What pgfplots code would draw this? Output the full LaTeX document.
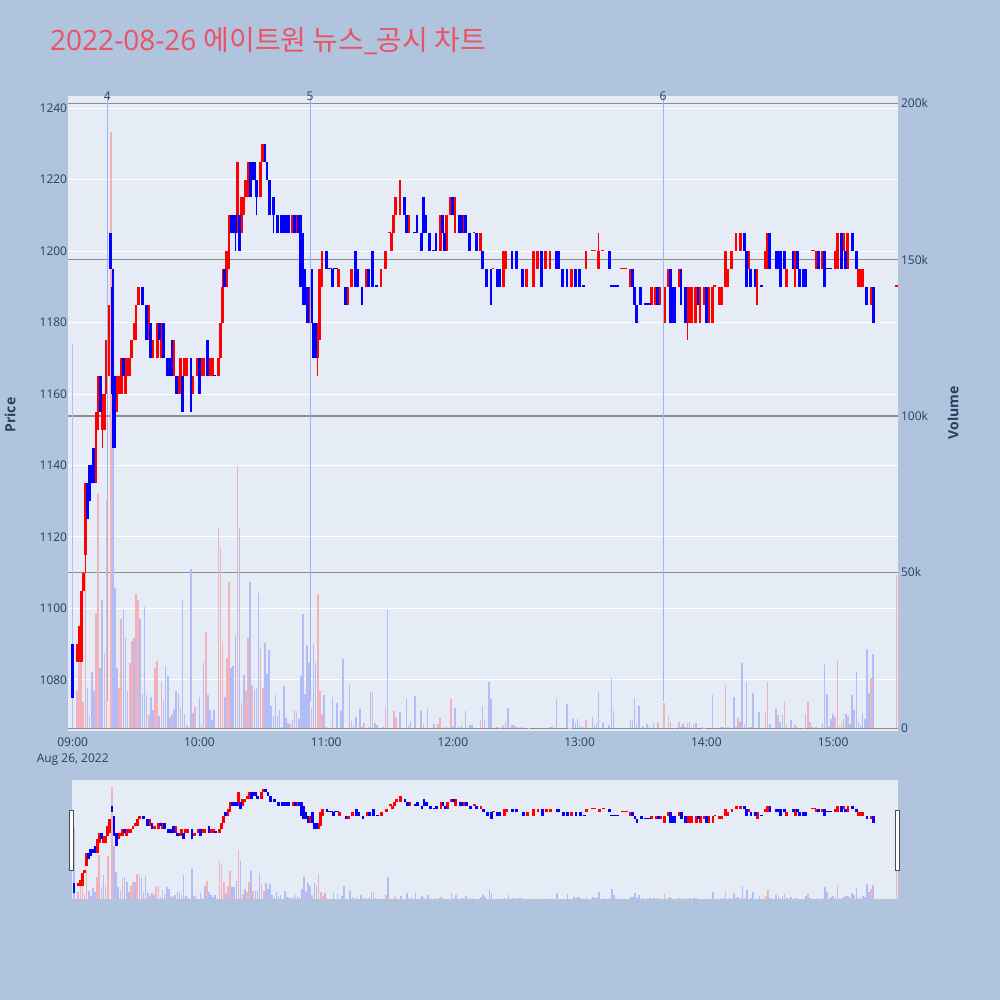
\documentclass[border=0pt]{standalone}
\usepackage{pgfplots}
\pgfplotsset{compat=1.18}
\usepackage{pgfplotstable}
\usepackage{fontspec}
\setmainfont{Open Sans}
\newfontfamily\krfont{Noto Sans CJK KR}

\definecolor{pagebg}{RGB}{176,196,222}
\definecolor{plotbg}{RGB}{229,236,246}
\definecolor{axtext}{RGB}{42,63,95}
\definecolor{titlered}{RGB}{235,82,98}
\definecolor{volred}{RGB}{242,178,188}
\definecolor{volblue}{RGB}{178,188,246}
\definecolor{evline}{RGB}{160,180,240}
\definecolor{vgrid}{RGB}{140,140,140}

% candles, minute index from 09:00 : open high low close
\pgfplotstableread{
t o h l c
2 1085 1090 1085 1090
3 1085 1095 1085 1095
4 1085 1105 1085 1105
5 1105 1110 1105 1110
6 1115 1135 1110 1135
11 1135 1155 1135 1155
12 1150 1165 1150 1165
14 1150 1160 1145 1160
15 1150 1160 1150 1160
16 1160 1175 1160 1175
17 1165 1185 1165 1185
21 1155 1165 1155 1165
22 1160 1165 1160 1165
23 1160 1170 1160 1170
25 1160 1170 1160 1170
26 1165 1170 1165 1170
27 1165 1170 1165 1170
28 1170 1175 1170 1175
29 1175 1180 1175 1180
30 1175 1185 1175 1185
31 1185 1190 1185 1190
36 1175 1185 1175 1185
38 1170 1175 1170 1175
40 1170 1180 1170 1180
42 1170 1180 1170 1180
48 1165 1175 1165 1175
50 1160 1165 1160 1165
51 1160 1170 1160 1170
53 1165 1170 1165 1170
54 1165 1170 1165 1170
57 1160 1165 1160 1165
59 1165 1170 1165 1170
61 1165 1170 1165 1170
62 1165 1170 1165 1170
65 1165 1170 1165 1170
66 1165 1170 1165 1170
69 1165 1170 1165 1170
70 1170 1180 1170 1180
71 1180 1195 1180 1190
73 1190 1200 1190 1200
74 1195 1210 1195 1210
78 1205 1225 1205 1225
80 1205 1215 1205 1215
81 1210 1215 1210 1215
82 1215 1220 1215 1220
83 1215 1225 1215 1225
89 1215 1225 1215 1225
90 1225 1230 1225 1230
104 1205 1210 1205 1210
106 1205 1210 1205 1210
112 1180 1190 1180 1190
116 1170 1180 1165 1180
117 1175 1195 1175 1195
118 1190 1200 1190 1200
126 1190 1195 1190 1195
130 1185 1190 1185 1190
132 1190 1195 1190 1195
139 1190 1195 1190 1195
146 1190 1195 1190 1195
148 1195 1200 1195 1200
150 1205 1205 1205 1205
151 1200 1205 1200 1205
152 1205 1210 1205 1210
153 1210 1215 1210 1215
155 1210 1220 1210 1220
159 1205 1210 1205 1210
174 1200 1210 1200 1210
177 1200 1210 1200 1210
179 1210 1215 1210 1215
181 1205 1215 1205 1215
185 1205 1210 1205 1210
190 1205 1205 1205 1205
193 1200 1205 1200 1205
199 1195 1195 1195 1195
204 1190 1200 1190 1200
205 1195 1200 1195 1200
215 1190 1195 1190 1195
218 1190 1200 1190 1200
220 1195 1200 1195 1200
224 1195 1200 1195 1200
226 1195 1200 1195 1200
236 1190 1195 1190 1195
243 1195 1200 1195 1200
246 1200 1200 1200 1200
247 1200 1200 1200 1200
249 1195 1205 1195 1200
251 1200 1200 1200 1200
260 1195 1195 1195 1195
261 1195 1195 1195 1195
262 1195 1195 1195 1195
264 1190 1195 1190 1195
274 1185 1190 1185 1190
276 1185 1190 1185 1190
278 1185 1190 1185 1190
280 1180 1190 1180 1190
282 1190 1195 1190 1195
287 1190 1195 1190 1195
291 1180 1190 1175 1190
292 1180 1190 1180 1190
293 1180 1190 1180 1190
295 1180 1190 1180 1190
297 1180 1190 1180 1190
299 1185 1190 1185 1190
301 1180 1190 1180 1190
303 1180 1190 1180 1190
304 1190 1190 1190 1190
306 1185 1190 1185 1190
307 1185 1190 1185 1190
309 1190 1200 1190 1200
310 1190 1195 1190 1195
312 1195 1200 1195 1200
314 1200 1205 1200 1205
316 1200 1205 1200 1205
320 1195 1200 1195 1200
324 1185 1195 1185 1195
328 1195 1200 1195 1200
329 1195 1205 1195 1205
338 1190 1195 1190 1195
342 1190 1200 1190 1200
350 1200 1200 1200 1200
351 1200 1200 1200 1200
352 1195 1200 1195 1200
355 1195 1200 1195 1200
361 1195 1200 1195 1200
362 1195 1205 1195 1205
365 1200 1205 1200 1205
367 1195 1205 1195 1205
372 1190 1195 1190 1195
373 1190 1195 1190 1195
374 1190 1195 1190 1195
378 1185 1190 1185 1190
390 1190 1190 1190 1190
}\redc

\pgfplotstableread{
t o h l c
0 1090 1090 1075 1075
7 1135 1135 1125 1125
8 1140 1140 1130 1130
9 1140 1140 1135 1135
10 1145 1145 1135 1135
13 1165 1165 1155 1155
18 1205 1205 1195 1195
19 1190 1195 1145 1160
20 1165 1165 1145 1145
24 1170 1170 1165 1165
33 1190 1190 1185 1185
35 1185 1185 1175 1175
37 1180 1180 1170 1170
41 1180 1180 1175 1175
43 1180 1180 1170 1170
45 1170 1170 1165 1165
46 1170 1170 1165 1165
47 1175 1175 1165 1165
49 1165 1165 1160 1160
52 1165 1165 1155 1155
56 1170 1170 1155 1155
60 1170 1170 1160 1160
64 1175 1175 1165 1165
67 1165 1165 1165 1165
72 1195 1195 1190 1190
75 1210 1210 1205 1205
76 1210 1210 1205 1205
77 1210 1210 1200 1205
79 1210 1210 1200 1200
84 1225 1225 1215 1215
85 1225 1225 1220 1220
86 1225 1225 1220 1220
87 1220 1220 1210 1215
91 1230 1230 1225 1225
92 1225 1225 1220 1220
93 1220 1220 1210 1210
95 1215 1215 1205 1210
97 1210 1210 1205 1205
99 1210 1210 1205 1205
100 1210 1210 1205 1205
101 1210 1210 1205 1205
102 1210 1210 1205 1205
105 1210 1210 1205 1205
107 1210 1210 1205 1205
108 1210 1210 1190 1190
109 1205 1205 1185 1185
110 1195 1195 1185 1185
111 1190 1190 1180 1180
113 1195 1195 1180 1180
114 1180 1180 1170 1170
115 1180 1180 1170 1170
120 1200 1200 1195 1195
121 1195 1195 1195 1195
122 1195 1195 1195 1195
123 1195 1195 1190 1190
124 1195 1195 1195 1195
125 1195 1195 1195 1195
129 1190 1190 1185 1185
134 1200 1200 1190 1190
135 1195 1195 1190 1190
137 1190 1190 1185 1185
140 1195 1195 1190 1190
142 1200 1200 1190 1190
144 1190 1190 1190 1190
157 1215 1215 1210 1210
158 1210 1210 1205 1205
162 1205 1205 1205 1205
163 1210 1210 1205 1205
165 1205 1205 1200 1200
166 1215 1215 1205 1205
167 1210 1210 1205 1205
169 1205 1205 1200 1200
171 1200 1200 1200 1200
172 1205 1205 1200 1200
175 1210 1210 1205 1205
176 1205 1205 1200 1200
180 1215 1215 1210 1210
183 1210 1210 1205 1205
184 1210 1210 1205 1205
186 1210 1210 1205 1205
188 1205 1205 1200 1200
191 1205 1205 1200 1200
194 1200 1200 1195 1195
196 1195 1195 1190 1190
198 1195 1195 1185 1185
201 1195 1195 1190 1190
202 1195 1195 1190 1190
208 1200 1200 1195 1195
210 1200 1200 1195 1195
213 1195 1195 1190 1190
222 1200 1200 1190 1190
229 1200 1200 1195 1195
230 1200 1200 1195 1195
232 1195 1195 1190 1190
234 1195 1195 1190 1190
238 1195 1195 1190 1190
240 1195 1195 1190 1190
242 1190 1190 1190 1190
254 1200 1200 1195 1195
255 1190 1190 1190 1190
256 1190 1190 1190 1190
257 1190 1190 1190 1190
258 1190 1190 1190 1190
265 1195 1195 1190 1190
266 1190 1190 1185 1185
267 1185 1185 1180 1180
269 1190 1190 1185 1185
271 1185 1185 1185 1185
272 1185 1185 1185 1185
273 1185 1185 1185 1185
277 1190 1190 1185 1185
283 1195 1195 1180 1180
284 1190 1190 1180 1180
285 1190 1190 1180 1180
288 1195 1195 1185 1185
290 1190 1190 1180 1180
296 1190 1190 1185 1185
300 1190 1190 1180 1180
318 1205 1205 1200 1200
319 1200 1200 1190 1190
321 1195 1195 1190 1190
323 1195 1195 1190 1190
326 1190 1190 1190 1190
330 1205 1205 1195 1195
333 1200 1200 1195 1195
334 1200 1200 1195 1195
335 1200 1200 1190 1190
337 1200 1200 1195 1195
341 1200 1200 1195 1195
343 1200 1200 1195 1195
344 1195 1195 1190 1190
346 1195 1195 1190 1190
347 1195 1195 1190 1190
353 1200 1200 1195 1195
356 1200 1200 1190 1190
357 1195 1195 1195 1195
358 1195 1195 1195 1195
359 1195 1195 1195 1195
364 1205 1205 1195 1195
366 1200 1200 1195 1195
369 1205 1205 1200 1200
371 1200 1200 1195 1195
376 1190 1190 1185 1185
379 1190 1190 1180 1180
}\bluec

% volume in thousands
\pgfplotstableread{
t v
2 12
3 21
4 25
5 8.5
6 50
8 4
11 37
12 75
15 24
16 73
18 191
22 13
23 35
27 21
28 28
30 43
31 41
36 4.4
39 19.5
40 21.6
42 15
47 4.5
51 6.5
54 1
58 6.8
61 1.3
63 31
69 64
70 58
71 28
73 22.6
74 47
78 84
80 8
82 12
83 29
85 14
89 26
90 13
103 1.3
106 5.6
113 6.5
116 43
117 12
118 4.5
120 0.5
122 0.5
132 2.3
138 1.7
142 11.8
148 6.8
152 5.7
153 3.2
159 1
166 1.5
173 1.3
174 3.4
177 0.4
179 9.3
193 2.8
204 1.2
209 1
235 0.2
236 0.2
243 2.8
277 2.2
280 8.2
282 3.9
287 2.2
291 1.7
298 0.5
301 0.5
309 14
315 3.3
318 1.5
320 0.5
328 5.6
329 14.9
334 4.4
337 8.7
342 1
348 8.5
349 2.2
355 1.7
361 3.6
362 22
364 1.7
367 4
378 16
390 49
}\redv

\pgfplotstableread{
t v
0 123
7 13
9 18
10 12
13 19.5
14 41
19 90
20 45
21 19.5
24 38
25 29
26 12
29 29
32 35
33 11
34 39
35 10.7
37 10
38 6
41 3.9
43 8.7
44 20
45 16.7
46 3.6
48 6.3
49 12
50 11.3
52 41
53 4.5
56 51
57 5
60 10
62 21
64 10.8
65 6
66 2.8
67 5.8
72 10
75 19.5
76 20
77 30
79 64
81 17
84 47
86 12.5
87 13
88 43.5
91 27.4
92 17.5
93 25
94 7.3
95 3.9
96 10.8
97 4
98 5.8
99 0.5
100 13.5
101 3.5
102 1.8
104 2.8
105 5.8
107 3
108 16.8
109 36.7
110 11
111 26.6
112 21
114 27
115 21
119 10.6
123 10
125 8
127 5.5
128 22.3
131 14
133 1
134 3.8
136 6.3
137 0.4
140 0.6
141 11.6
143 1.7
144 1.2
147 0.4
149 37.8
155 5.4
158 9.5
160 2.3
162 10.3
165 5.5
168 6.3
171 1.5
176 0.4
180 0.6
181 6.5
183 0.4
184 1
186 5.5
188 1.2
189 1.2
194 7.1
195 2.6
197 15
198 9.5
201 0.4
202 0.3
203 0.4
205 2
206 6.6
208 1
210 0.4
211 0.6
212 0.6
213 0.4
216 0.2
226 0.6
227 0.4
229 9.3
234 7.7
237 2.9
238 1.8
239 3.1
240 1.2
241 0.4
246 3.7
247 1.2
248 1.8
249 11.8
251 1.6
254 1.2
255 16
256 5.7
264 2.8
265 2.8
266 9.8
267 1.3
268 7.1
270 0.8
272 1.5
273 0.6
275 1.7
283 2.2
285 0.3
288 0.5
289 1.3
290 0.5
292 2.2
293 0.5
294 1.3
295 1.7
299 0.3
303 10.8
307 0.6
308 0.6
310 0.5
311 0.6
313 10
314 0.6
316 2
317 21
319 15
321 0.6
322 11.3
325 5.3
330 1.3
333 6.3
335 2
336 4.2
338 1.3
340 2.8
343 0.6
346 0.3
347 4.5
350 0.5
352 0.6
356 20.7
357 11
358 0.5
359 2.9
360 4.7
363 0.5
365 3
366 4.7
368 1.3
369 10.6
370 5.8
371 18
372 2.2
373 1.2
374 5
375 2.9
376 25.5
377 11.5
379 23.7
}\bluev

\pgfplotsset{
  mainbox/.style={scale only axis, width=829.2pt, height=635pt,
    at={(68.3pt,269pt)}, anchor=south west, xmin=-2.08, xmax=390.5,
    axis line style={draw=none}, major tick length=0pt,
    tick label style={font=\fontsize{12}{16}\selectfont, text=axtext}},
  slidebox/.style={scale only axis, width=825.2pt, height=119.3pt,
    at={(72.3pt,100.7pt)}, anchor=south west, xmin=-0.8, xmax=390.5,
    axis line style={draw=none}, xtick=\empty, ytick=\empty},
  pricey/.style={ymin=1065.7, ymax=1243.4},
  voly/.style={ymin=-0.8, ymax=202.4},
  % candle body or wick: an error bar from y up by the error value
  body/.style 2 args={draw=none, mark=none, forget plot,
    error bars/.cd, y dir=plus, y explicit, error mark=none,
    error bar style={draw=#1, line width=#2}},
}

\begin{document}
\begin{tikzpicture}[x=1pt,y=1pt]
\fill[pagebg] (0,0) rectangle (1000,1000);
\useasboundingbox (0,0) rectangle (1000,1000);

% plot background and price grid
\begin{axis}[mainbox, pricey, axis background/.style={fill=plotbg},
  xtick=\empty, ytick={1080,1100,...,1240}, yticklabels={},
  ymajorgrids, major grid style={white, line width=1pt}]
\end{axis}

% volume
\begin{axis}[mainbox, voly, xtick=\empty,
  ytick={50,100,150,200}, yticklabels={50k,100k,150k,200k},
  yticklabel pos=right, ymajorgrids,
  major grid style={vgrid, line width=1.2pt},
  extra y ticks={0}, extra y tick labels={0},
  extra y tick style={grid style={white, line width=2pt}}]
\addplot[ycomb, volred, line width=1.6pt, mark=none] table[x=t, y=v] {\redv};
\addplot[ycomb, volblue, line width=1.6pt, mark=none] table[x=t, y=v] {\bluev};
\end{axis}

% price candles
\begin{axis}[mainbox, pricey, clip=false,
  ytick={1080,1100,...,1240},
  yticklabels={1080,1100,1120,1140,1160,1180,1200,1220,1240},
  yticklabel style={inner xsep=1pt},
  xtick={0,60,...,360},
  xticklabels={{09:00\\Aug 26, 2022},10:00,11:00,12:00,13:00,14:00,15:00},
  xticklabel style={align=center, anchor=north, inner ysep=7pt}]
\addplot[body={red}{1.4pt}] table[x=t, y=l, y error expr=\thisrow{h}-\thisrow{l}] {\redc};
\addplot[body={blue}{1.4pt}] table[x=t, y=l, y error expr=\thisrow{h}-\thisrow{l}] {\bluec};
\addplot[body={red}{2.8pt}] table[x=t, y=o, y error expr={max(\thisrow{c}-\thisrow{o},0.4)}] {\redc};
\addplot[body={blue}{2.8pt}] table[x=t, y=c, y error expr={max(\thisrow{o}-\thisrow{c},0.4)}] {\bluec};
\addplot[evline, line width=1pt, forget plot] coordinates {(16.4,1074) (16.4,1243.4)};
\addplot[evline, line width=1pt, forget plot] coordinates {(112.4,1074) (112.4,1243.4)};
\addplot[evline, line width=1pt, forget plot] coordinates {(279.5,1074) (279.5,1243.4)};
\node[text=axtext, font=\fontsize{12}{14}\selectfont] at (axis cs:16.4,1243.4) {4};
\node[text=axtext, font=\fontsize{12}{14}\selectfont] at (axis cs:112.4,1243.4) {5};
\node[text=axtext, font=\fontsize{12}{14}\selectfont] at (axis cs:279.5,1243.4) {6};
\end{axis}

% range slider
\begin{axis}[slidebox, voly, axis background/.style={fill=plotbg}]
\addplot[ycomb, volred, line width=1.6pt, mark=none] table[x=t, y=v] {\redv};
\addplot[ycomb, volblue, line width=1.6pt, mark=none] table[x=t, y=v] {\bluev};
\end{axis}
\begin{axis}[slidebox, pricey]
\addplot[body={red}{2.8pt}] table[x=t, y=o, y error expr={max(\thisrow{c}-\thisrow{o},2)}] {\redc};
\addplot[body={blue}{2.8pt}] table[x=t, y=c, y error expr={max(\thisrow{o}-\thisrow{c},2)}] {\bluec};
\end{axis}
\draw[fill=white, draw=black!70, line width=0.8pt] (69.3,129.3) rectangle (73.3,190);
\draw[fill=white, draw=black!70, line width=0.8pt] (895.5,129.3) rectangle (899.5,190);

% titles
\node[anchor=base west, text=titlered, inner sep=0pt] at (50,949.3)
  {\fontsize{28}{32}\selectfont 2022-08-26 {\krfont\fontsize{28}{32}\selectfont 에이트원 뉴스}\_{\krfont\fontsize{28}{32}\selectfont 공시 차트}};
\node[rotate=90, text=axtext, font=\fontsize{14}{16}\selectfont\bfseries] at (10,585) {Price};
\node[rotate=90, text=axtext, font=\fontsize{14}{16}\selectfont\bfseries] at (953,587) {Volume};
\end{tikzpicture}
\end{document}
